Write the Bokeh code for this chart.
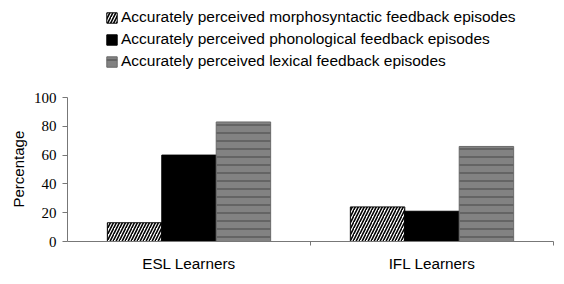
from bokeh.plotting import figure
from bokeh.models import Range1d, FixedTicker, Legend, LegendItem, ColumnDataSource, Title
from bokeh.embed import file_html
from bokeh.resources import INLINE

groups = ["ESL Learners", "IFL Learners"]
series = [
    "Accurately perceived morphosyntactic feedback episodes",
    "Accurately perceived phonological feedback episodes",
    "Accurately perceived lexical feedback episodes",
]
morphosyntactic = [13, 24]
phonological = [60, 21]
lexical = [83, 66]
y_ticks = [0, 20, 40, 60, 80, 100]

values = [morphosyntactic, phonological, lexical]
bar_w = 0.224
offsets = [-bar_w, 0.0, bar_w]

styles = [
    dict(fill_color="white", line_color="black", line_width=1,
         hatch_pattern="right_diagonal_line", hatch_color="black",
         hatch_scale=6, hatch_weight=1.6),
    dict(fill_color="black", line_color="black", line_width=1),
    dict(fill_color="#828282", line_color="#6a6a6a", line_width=1,
         hatch_pattern="horizontal_line", hatch_color="#646464",
         hatch_scale=8, hatch_weight=2),
]

# The plotting frame reaches the top of the canvas so the legend can sit
# above the bars; the value axis itself is bounded to 0..100.
H, W = 284, 564
axis_bottom, axis_top = 241, 97
y_end = 100 * axis_bottom / (axis_bottom - axis_top)

p = figure(width=W, height=H, output_backend="svg", toolbar_location=None,
           x_range=Range1d(0, len(groups)), y_range=Range1d(0, y_end),
           min_border_left=67, min_border_right=11,
           min_border_top=0, min_border_bottom=H - axis_bottom)
p.outline_line_color = None
p.xgrid.visible = False
p.ygrid.visible = False
p.background_fill_color = "white"

items = []
for name, vals, off, st in zip(series, values, offsets, styles):
    src = ColumnDataSource(dict(x=[i + 0.5 + off for i in range(len(groups))], top=vals))
    r = p.vbar(x="x", top="top", width=bar_w, bottom=0, source=src, **st)
    items.append(LegendItem(label=name, renderers=[r]))

legend = Legend(items=items, location=(38, 169), orientation="vertical",
                glyph_width=13, glyph_height=13, label_height=22,
                spacing=0, padding=0, margin=0, label_standoff=3,
                border_line_color=None, background_fill_alpha=0,
                label_text_font="Liberation Sans", label_text_font_size="15.5px",
                label_text_color="black")
p.add_layout(legend, "center")

# x axis: group names centred, small separators at group boundaries
xa = p.xaxis[0]
xa.ticker = FixedTicker(ticks=[i + 0.5 for i in range(len(groups))],
                        minor_ticks=list(range(1, len(groups) + 1)))
xa.major_label_overrides = {i + 0.5: g for i, g in enumerate(groups)}
xa.major_tick_line_color = None
xa.minor_tick_out = 4
xa.minor_tick_in = 0
xa.minor_tick_line_color = "#777777"
xa.axis_line_color = "#777777"
xa.major_label_standoff = 7
xa.major_label_text_font = "Liberation Sans"
xa.major_label_text_font_size = "15.3px"
xa.major_label_text_color = "black"

ya = p.yaxis[0]
ya.ticker = FixedTicker(ticks=y_ticks)
ya.bounds = (0, 100)
ya.axis_line_color = "#777777"
ya.major_tick_line_color = "#777777"
ya.major_tick_out = 5
ya.major_tick_in = 0
ya.minor_tick_line_color = None
ya.major_label_standoff = 6
ya.major_label_text_font = "Liberation Serif"
ya.major_label_text_font_size = "15px"
ya.major_label_text_color = "black"

# value-axis title, centred on the bounded 0..100 span
ylab = Title(text="Percentage", align="left", offset=34, standoff=8,
             text_font="Liberation Sans", text_font_style="normal",
             text_font_size="15px", text_color="black")
p.add_layout(ylab, "left")

open("out.html", "w").write(file_html(p, INLINE))
